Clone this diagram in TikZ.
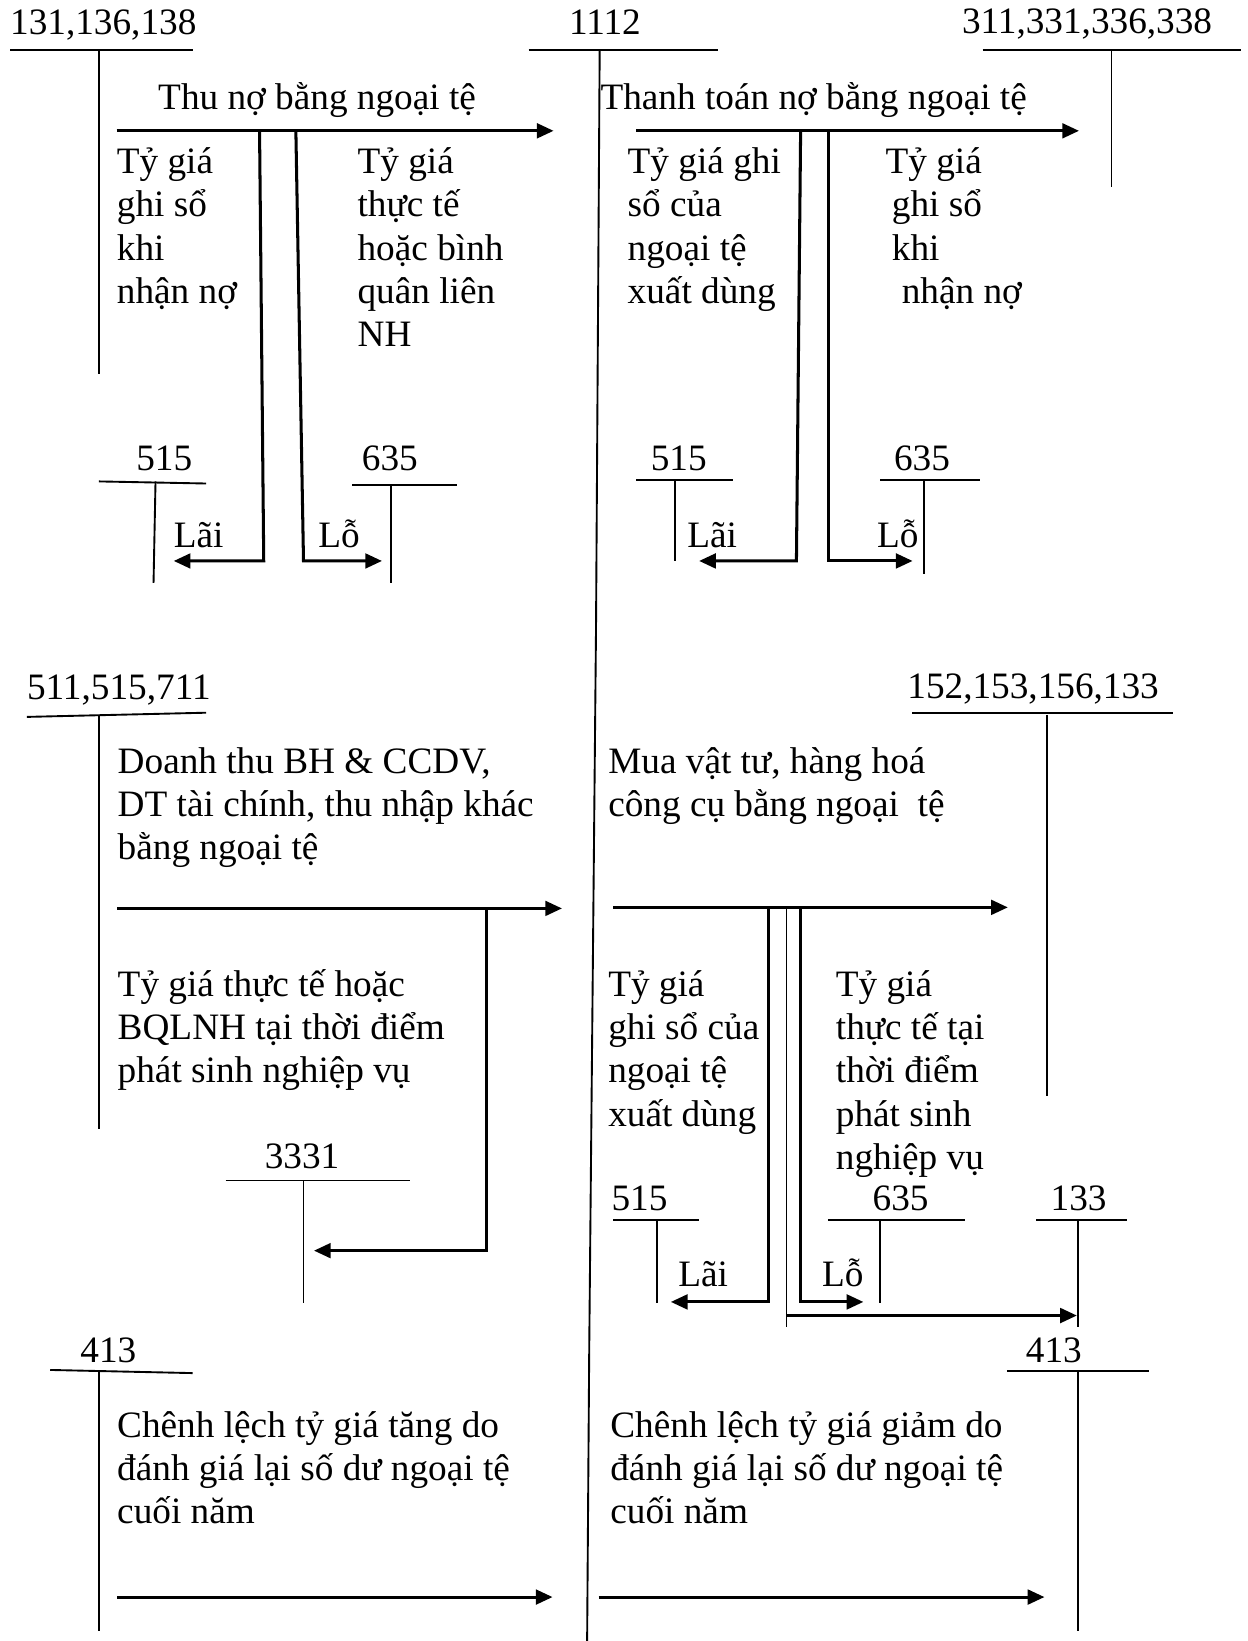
\documentclass[tikz,border=0pt]{standalone}
\usepackage{fontspec}
\setmainfont{Liberation Serif}
\usetikzlibrary{arrows.meta}
\begin{document}
\begin{tikzpicture}[x=1pt,y=-1pt,
  lbl/.style={font=\fontsize{35.6}{41.3}\selectfont, inner sep=0pt, anchor=base west, align=left},
  num/.style={font=\fontsize{35.6}{41.3}\selectfont, inner sep=0pt, anchor=base},
  tline/.style={line width=1.8pt},
  flow/.style={line width=2.9pt, -{Triangle[length=16pt,width=14pt]}},
  ]
\useasboundingbox (0,0) rectangle (1192,1568);

% ---------- top row accounts ----------
\node[num, anchor=base west] (a131) at (9.5,33) {131,136,138};
\draw[tline] (10,48) -- (184,48);
\draw[tline] (95,48) -- (95,357);

\node[num] (a1112) at (578,33) {1112};
\draw[tline] (505,48) -- (686,48);
\draw[tline] (573,48) -- (569.5,600) -- (563,1290) -- (561,1568);

\node[num, anchor=base west] (a311) at (919,32) {311,331,336,338};
\draw[tline] (939,48) -- (1186,48);
\draw[tline] (1062,48) -- (1062,179);

% ---------- flow 1: Thu no ----------
\node[lbl] (t1) at (151,104.4) {Thu nợ bằng ngoại tệ};
\coordinate (f1s) at (111.5,125); \coordinate (f1e) at (529,125);
\draw[flow] (f1s) -- (f1e);
\node[lbl] (t1a) at (111.5,289.9) {Tỷ giá\\ghi sổ\\khi\\nhận nợ};
\node[lbl] (t1b) at (341.5,331.2) {Tỷ giá\\thực tế\\hoặc bình\\quân liên\\NH};

\node[num] (a515a) at (157,450) {515};
\draw[tline] (94.5,460) -- (197,462);
\draw[tline] (148.6,460) -- (146.7,557);
\node[num] (a635a) at (372.5,450) {635};
\draw[tline] (336.5,463) -- (436.6,463);
\draw[tline] (374,463) -- (374,557);
\node[lbl] (lai1) at (166,523) {Lãi};
\node[lbl] (lo1) at (304,523) {Lỗ};
\coordinate (b1t) at (248,125); \coordinate (b1b) at (252,536); \coordinate (b1e) at (166,536);
\draw[flow] (b1t) -- (b1b) -- (b1e);
\coordinate (b2t) at (282.7,125); \coordinate (b2b) at (290,536); \coordinate (b2e) at (365,536);
\draw[flow] (b2t) -- (b2b) -- (b2e);

% ---------- flow 2: Thanh toan no ----------
\node[lbl] (t2) at (573.6,104.4) {Thanh toán nợ bằng ngoại tệ};
\coordinate (f2s) at (608,125); \coordinate (f2e) at (1031,125);
\draw[flow] (f2s) -- (f2e);
\node[lbl] (t2a) at (599.6,289.9) {Tỷ giá ghi\\sổ của\\ngoại tệ\\xuất dùng};
\node[lbl] (t2b) at (846,289.9) {Tỷ giá\\\hspace*{6pt}ghi sổ\\\hspace*{6pt}khi\\\hspace*{15.5pt}nhận nợ};

\node[num] (a515b) at (648.6,450) {515};
\draw[tline] (608,459) -- (700,459);
\draw[tline] (645,459) -- (645,536);
\node[num] (a635b) at (881,450) {635};
\draw[tline] (841,459) -- (936,459);
\draw[tline] (883,459) -- (883,548);
\node[lbl] (lai2) at (656.6,523) {Lãi};
\node[lbl] (lo2) at (838,523) {Lỗ};
\coordinate (b3t) at (765,125); \coordinate (b3b) at (761,536); \coordinate (b3e) at (668,536);
\draw[flow] (b3t) -- (b3b) -- (b3e);
\coordinate (b4t) at (791.6,125); \coordinate (b4b) at (791.6,536); \coordinate (b4e) at (872,536);
\draw[flow] (b4t) -- (b4b) -- (b4e);

% ---------- flow 3: Doanh thu ----------
\node[num, anchor=base west] (a511) at (25.7,668) {511,515,711};
\draw[tline] (25.7,685) -- (197,681);
\draw[tline] (95,683) -- (95,1079);
\node[lbl] (t3) at (112.3,821.4) {Doanh thu BH \& CCDV,\\DT tài chính, thu nhập khác\\bằng ngoại tệ};
\coordinate (f3s) at (112,868); \coordinate (f3e) at (537,868);
\draw[flow] (f3s) -- (f3e);
\node[lbl] (t3a) at (112.3,1034.6) {Tỷ giá thực tế hoặc\\BQLNH tại thời điểm\\phát sinh nghiệp vụ};
\node[num] (a3331) at (288.6,1116.6) {3331};
\draw[tline] (215.6,1128) -- (392,1128);
\draw[tline] (290,1128) -- (290,1245);
\coordinate (b5t) at (465,868); \coordinate (b5b) at (465,1195); \coordinate (b5e) at (300,1195);
\draw[flow] (b5t) -- (b5b) -- (b5e);

% ---------- flow 4: Mua vat tu ----------
\node[num, anchor=base west] (a152) at (866.8,667) {152,153,156,133};
\draw[tline] (871.7,681) -- (1121,681);
\draw[tline] (1000,683) -- (1000,1047);
\node[lbl] (t4) at (581,780.1) {Mua vật tư, hàng hoá\\công cụ bằng ngoại\ \ tệ};
\coordinate (f4s) at (586,867); \coordinate (f4e) at (963,867);
\draw[flow] (f4s) -- (f4e);
\node[lbl] (t4a) at (581,1075.9) {Tỷ giá\\ghi sổ của\\ngoại tệ\\xuất dùng};
\node[lbl] (t4b) at (798.5,1117.2) {Tỷ giá\\thực tế tại\\thời điểm\\phát sinh\\nghiệp vụ};

\node[num] (a515c) at (611,1157) {515};
\draw[tline] (586,1166) -- (668,1166);
\draw[tline] (627.7,1166) -- (627.7,1245);
\node[num] (a635c) at (860.6,1157) {635};
\draw[tline] (791,1166) -- (922,1166);
\draw[tline] (841,1166) -- (841,1245);
\node[num] (a133) at (1030.6,1157) {133};
\draw[tline] (990,1166) -- (1077,1166);
\draw[tline] (1030,1166) -- (1030,1268);
\node[lbl] (lai3) at (648,1229.7) {Lãi};
\node[lbl] (lo3) at (785.4,1229.7) {Lỗ};
\coordinate (b6t) at (734,867); \coordinate (b6b) at (734,1244); \coordinate (b6e) at (641,1244);
\draw[flow] (b6t) -- (b6b) -- (b6e);
\coordinate (b7t) at (764.7,867); \coordinate (b7b) at (764.7,1244); \coordinate (b7e) at (825,1244);
\draw[flow] (b7t) -- (b7b) -- (b7e);
\coordinate (b8t) at (751.5,867); \coordinate (b8b) at (751.5,1268); \coordinate (b8m) at (751.5,1257);
\coordinate (b8e) at (1029,1257);
\draw[tline] (b8t) -- (b8b);
\draw[flow] (b8m) -- (b8e);

% ---------- flow 5/6: 413 ----------
\node[num] (a413a) at (103.5,1301.7) {413};
\draw[tline] (48,1309) -- (184,1312);
\draw[tline] (95,1311) -- (95,1558);
\node[lbl] (t5) at (111.8,1456) {Chênh lệch tỷ giá tăng do\\đánh giá lại số dư ngoại tệ\\cuối năm};
\coordinate (f5s) at (112,1526); \coordinate (f5e) at (528,1526);
\draw[flow] (f5s) -- (f5e);

\node[num] (a413b) at (1007,1301.7) {413};
\draw[tline] (962,1310) -- (1098,1310);
\draw[tline] (1030,1310) -- (1030,1558);
\node[lbl] (t6) at (583,1456) {Chênh lệch tỷ giá giảm do\\đánh giá lại số dư ngoại tệ\\cuối năm};
\coordinate (f6s) at (572,1526); \coordinate (f6e) at (998,1526);
\draw[flow] (f6s) -- (f6e);
\end{tikzpicture}
\end{document}
